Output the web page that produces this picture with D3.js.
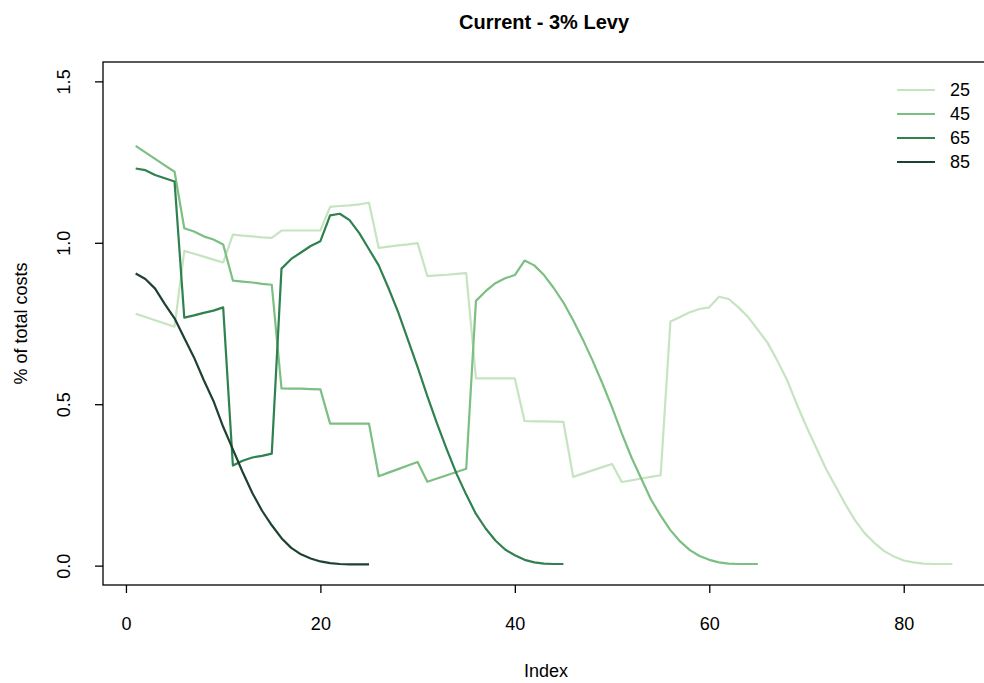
<!DOCTYPE html>
<html>
<head>
<meta charset="utf-8">
<script src="https://cdn.jsdelivr.net/npm/d3@7"></script>
<style>
  body { margin: 0; background: #fff; }
  svg { display: block; font-family: "Liberation Sans", Arial, sans-serif; }
</style>
</head>
<body>
<script>
// series values (index 1..n)
var age25 = [0.78, 0.77, 0.76, 0.75, 0.74, 0.975, 0.966, 0.957, 0.948, 0.939,
  1.025, 1.022, 1.02, 1.017, 1.015, 1.038, 1.038, 1.038, 1.038, 1.038,
  1.111, 1.114, 1.116, 1.119, 1.124, 0.984, 0.988, 0.992, 0.995, 0.999,
  0.897, 0.899, 0.901, 0.904, 0.906, 0.58, 0.58, 0.58, 0.58, 0.58,
  0.448, 0.447, 0.447, 0.446, 0.445, 0.275, 0.285, 0.295, 0.305, 0.315,
  0.259, 0.264, 0.27, 0.275, 0.28, 0.756, 0.77, 0.785, 0.795, 0.80,
  0.833, 0.826, 0.80, 0.77, 0.73, 0.69, 0.635, 0.575, 0.50, 0.43,
  0.365, 0.30, 0.245, 0.19, 0.14, 0.10, 0.07, 0.045, 0.028, 0.016,
  0.01, 0.006, 0.005, 0.005, 0.005];
var age45 = [1.30, 1.28, 1.26, 1.24, 1.22, 1.045, 1.035, 1.02, 1.01, 0.995,
  0.883, 0.88, 0.877, 0.873, 0.87, 0.549, 0.548, 0.548, 0.547, 0.546,
  0.44, 0.44, 0.44, 0.44, 0.44, 0.277, 0.288, 0.299, 0.31, 0.321,
  0.26, 0.27, 0.28, 0.29, 0.30, 0.82, 0.85, 0.875, 0.89, 0.90,
  0.945, 0.93, 0.90, 0.86, 0.815, 0.76, 0.70, 0.635, 0.565, 0.49,
  0.41, 0.335, 0.27, 0.205, 0.155, 0.11, 0.075, 0.048, 0.03, 0.018,
  0.01, 0.006, 0.005, 0.005, 0.005];
var age65 = [1.23, 1.225, 1.21, 1.20, 1.19, 0.768, 0.775, 0.783, 0.79, 0.80,
  0.31, 0.325, 0.335, 0.34, 0.347, 0.92, 0.95, 0.97, 0.99, 1.005,
  1.085, 1.09, 1.07, 1.03, 0.98, 0.93, 0.86, 0.785, 0.70, 0.615,
  0.525, 0.44, 0.36, 0.285, 0.22, 0.16, 0.115, 0.078, 0.05, 0.032,
  0.018, 0.01, 0.006, 0.005, 0.005];
var age85 = [0.905, 0.888, 0.858, 0.81, 0.766, 0.705, 0.645, 0.575, 0.51, 0.43,
  0.36, 0.29, 0.225, 0.17, 0.125, 0.085, 0.055, 0.035, 0.022, 0.013,
  0.008, 0.005, 0.004, 0.004, 0.004];

var seriesNames = ["25", "45", "65", "85"];
var seriesColors = ["#c6e4c1", "#7cbf82", "#2f8150", "#1d4230"];
var xTicks = [0, 20, 40, 60, 80];
var yTicks = [0.0, 0.5, 1.0, 1.5];

var allSeries = [age25, age45, age65, age85];

var width = 984, height = 683;
var margin = { top: 62, right: -1, bottom: 98, left: 103 };

var svg = d3.select("body").append("svg")
  .attr("width", width)
  .attr("height", height);

// R style 4% padding on both axes
var x = d3.scaleLinear().domain([-2.36, 88.36]).range([margin.left, width - margin.right]);
var y = d3.scaleLinear().domain([-0.06, 1.56]).range([height - margin.bottom, margin.top]);

var line = d3.line()
  .x(function(d, i) { return x(i + 1); })
  .y(function(d) { return y(d); });

svg.append("g").selectAll("path")
  .data(allSeries)
  .enter().append("path")
    .attr("d", line)
    .attr("fill", "none")
    .attr("stroke", function(d, i) { return seriesColors[i]; })
    .attr("stroke-width", 2.2)
    .attr("stroke-linejoin", "round");

// plot box
svg.append("rect")
  .attr("x", margin.left)
  .attr("y", margin.top)
  .attr("width", width - margin.right - margin.left)
  .attr("height", height - margin.bottom - margin.top)
  .attr("fill", "none")
  .attr("stroke", "#000")
  .attr("stroke-width", 1.3);

var xAxis = svg.append("g")
  .attr("transform", "translate(0," + (height - margin.bottom) + ")")
  .call(d3.axisBottom(x).tickValues(xTicks).tickSize(8).tickPadding(24).tickFormat(d3.format("d")));

var yAxis = svg.append("g")
  .attr("transform", "translate(" + margin.left + ",0)")
  .call(d3.axisLeft(y).tickValues(yTicks).tickSize(8).tickFormat(d3.format(".1f")));

xAxis.select(".domain").remove();
yAxis.select(".domain").remove();

[xAxis, yAxis].forEach(function(a) {
  a.selectAll("line").attr("stroke", "#000").attr("stroke-width", 1.3);
  a.selectAll("text").attr("font-size", 18).attr("fill", "#000")
    .attr("font-family", "Liberation Sans, Arial, sans-serif");
});

// y tick labels rotated like R las=0
yAxis.selectAll("text")
  .attr("x", null)
  .attr("text-anchor", "middle")
  .attr("transform", "translate(-39,0) rotate(-90)")
  .attr("dy", "0.35em");

svg.append("text")
  .attr("x", 544).attr("y", 29)
  .attr("text-anchor", "middle")
  .attr("font-size", 20).attr("font-weight", "bold")
  .text("Current - 3% Levy");

svg.append("text")
  .attr("x", 546).attr("y", 677)
  .attr("text-anchor", "middle")
  .attr("font-size", 18)
  .text("Index");

svg.append("text")
  .attr("transform", "translate(27," + ((margin.top + height - margin.bottom) / 2) + ") rotate(-90)")
  .attr("text-anchor", "middle")
  .attr("font-size", 18)
  .text("% of total costs");

// legend (no box)
var legend = svg.append("g").attr("transform", "translate(897,90)");
var rows = legend.selectAll("g")
  .data(seriesNames)
  .enter().append("g")
    .attr("transform", function(d, i) { return "translate(0," + (i * 24) + ")"; });
rows.append("line")
  .attr("x1", 0).attr("x2", 38)
  .attr("stroke", function(d, i) { return seriesColors[i]; })
  .attr("stroke-width", 2.2);
rows.append("text")
  .attr("x", 53).attr("dy", "0.35em")
  .attr("font-size", 18)
  .text(function(d) { return d; });
</script>
</body>
</html>
